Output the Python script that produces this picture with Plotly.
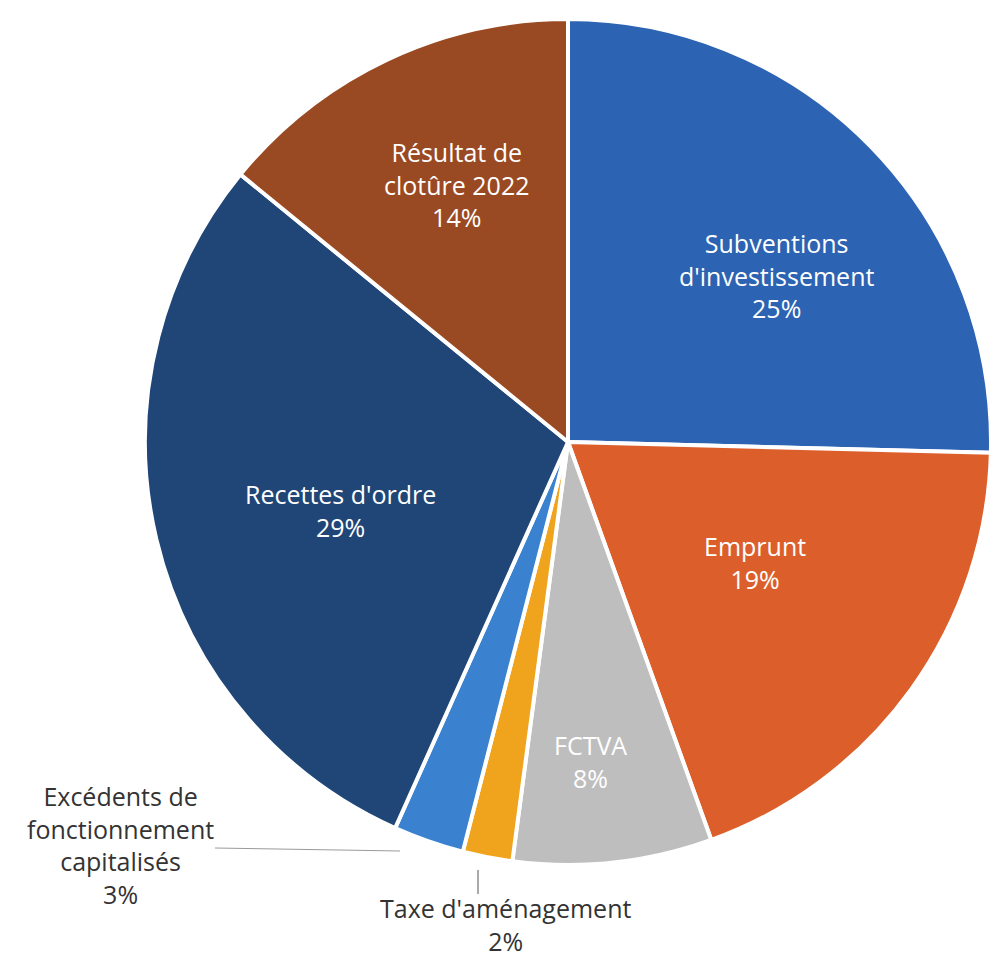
import plotly.graph_objects as go

labels = ["Subventions<br>d'investissement", "Emprunt", "FCTVA", "Taxe d'aménagement",
          "Excédents de<br>fonctionnement<br>capitalisés", "Recettes d'ordre", "Résultat de<br>clotûre 2022"]
values = [25.4, 19.1, 7.6, 1.9, 2.7, 29.2, 14.1]
pct_text = ["25%", "19%", "8%", "2%", "3%", "29%", "14%"]
colors = ["#2c63b2", "#dc5f2b", "#bebebe", "#f0a41d", "#3a82cf", "#1f4677", "#9a4a23"]

W, H = 991, 956
cx, cy, r = 568, 442, 423

fig = go.Figure(go.Pie(
    labels=labels, values=values, sort=False, direction="clockwise", rotation=0,
    marker=dict(colors=colors, line=dict(color="white", width=4)),
    textinfo="none", hoverinfo="label+percent",
    domain=dict(x=[(cx - r) / W, (cx + r) / W], y=[1 - (cy + r) / H, 1 - (cy - r) / H]),
    showlegend=False,
))

# label placements (pixel centres) and colours
lab_pos = [(776, 275, "white"), (755, 562, "white"), (590, 761, "white"),
           (505, 924, "#333333"), (120, 845, "#333333"), (340, 511, "white"), (457, 185, "white")]
for lab, pct, (x, y, col) in zip(labels, pct_text, lab_pos):
    fig.add_annotation(x=x / W, y=1 - y / H, xref="paper", yref="paper",
                       text=lab + "<br>" + pct, showarrow=False,
                       font=dict(family="Open Sans, sans-serif", size=25, color=col),
                       align="center", xanchor="center", yanchor="middle")

# leader lines
fig.add_shape(type="line", xref="paper", yref="paper",
              x0=215 / W, y0=1 - 848 / H, x1=400 / W, y1=1 - 851 / H,
              line=dict(color="#9a9a9a", width=1))
fig.add_shape(type="line", xref="paper", yref="paper",
              x0=478 / W, y0=1 - 870 / H, x1=478 / W, y1=1 - 894 / H,
              line=dict(color="#555555", width=1))

fig.update_layout(width=W, height=H, margin=dict(l=0, r=0, t=0, b=0),
                  paper_bgcolor="white", plot_bgcolor="white")
fig.write_html("out.html")
